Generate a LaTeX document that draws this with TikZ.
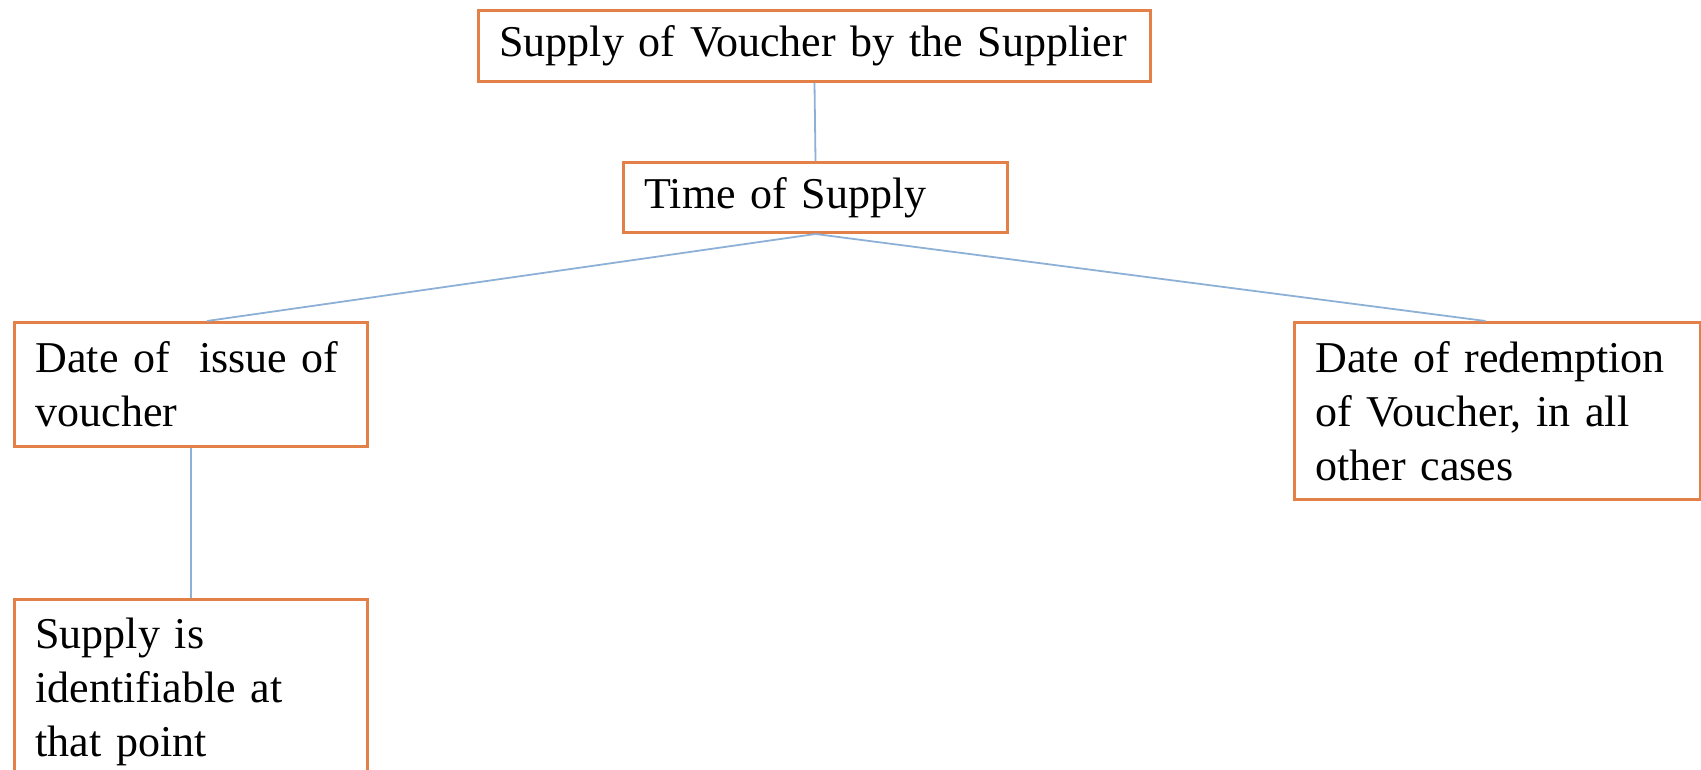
\documentclass[tikz,border=0pt]{standalone}
\usepackage{fontspec}
\setmainfont{Liberation Serif}
\usepackage{tikz}

\definecolor{boxorange}{RGB}{226,128,72}
\definecolor{linkblue}{RGB}{141,176,214}

\begin{document}
\begin{tikzpicture}[x=0.5pt,y=-0.5pt,
        box/.style={draw=boxorange, line width=1.5pt, fill=white, anchor=north west,
                    align=left, inner xsep=10.5pt, inner ysep=0pt,
                    font=\fontsize{22}{27}\selectfont},
        link/.style={draw=linkblue, line width=0.9pt}]
            % Frame
            \path[use as bounding box] (0,0) rectangle (1701,770);
            \clip (0,0) rectangle (1701,770);

            % Draw boxes
            \node[box, text width=315pt, minimum height=35.5pt] (voucher) at (477,9)
                {Supply of Voucher by the Supplier};
            \node[box, text width=171pt, minimum height=35pt] (time) at (622,161)
                {Time of Supply};
            \node[box, text width=155.5pt, minimum height=62pt] (issue) at (13,321)
                {Date of\ \ issue of\\voucher};
            \node[box, text width=182pt, minimum height=88.5pt] (redeem) at (1293,321)
                {Date of redemption\\of Voucher, in all\\other cases};
            \node[box, text width=155.5pt, minimum height=92pt] (ident) at (13,598)
                {Supply is\\identifiable at\\that point};

            % Draw links
            \coordinate (issuetop) at ([xshift=8pt]issue.north);
            \coordinate (redeemtop) at ([xshift=-6pt]redeem.north);
            \draw[link] (voucher.south) -- (time.north);
            \draw[link] (time.south) -- (issuetop);
            \draw[link] (time.south) -- (redeemtop);
            \draw[link] (issue.south) -- (ident.north);
        \end{tikzpicture}
\end{document}
